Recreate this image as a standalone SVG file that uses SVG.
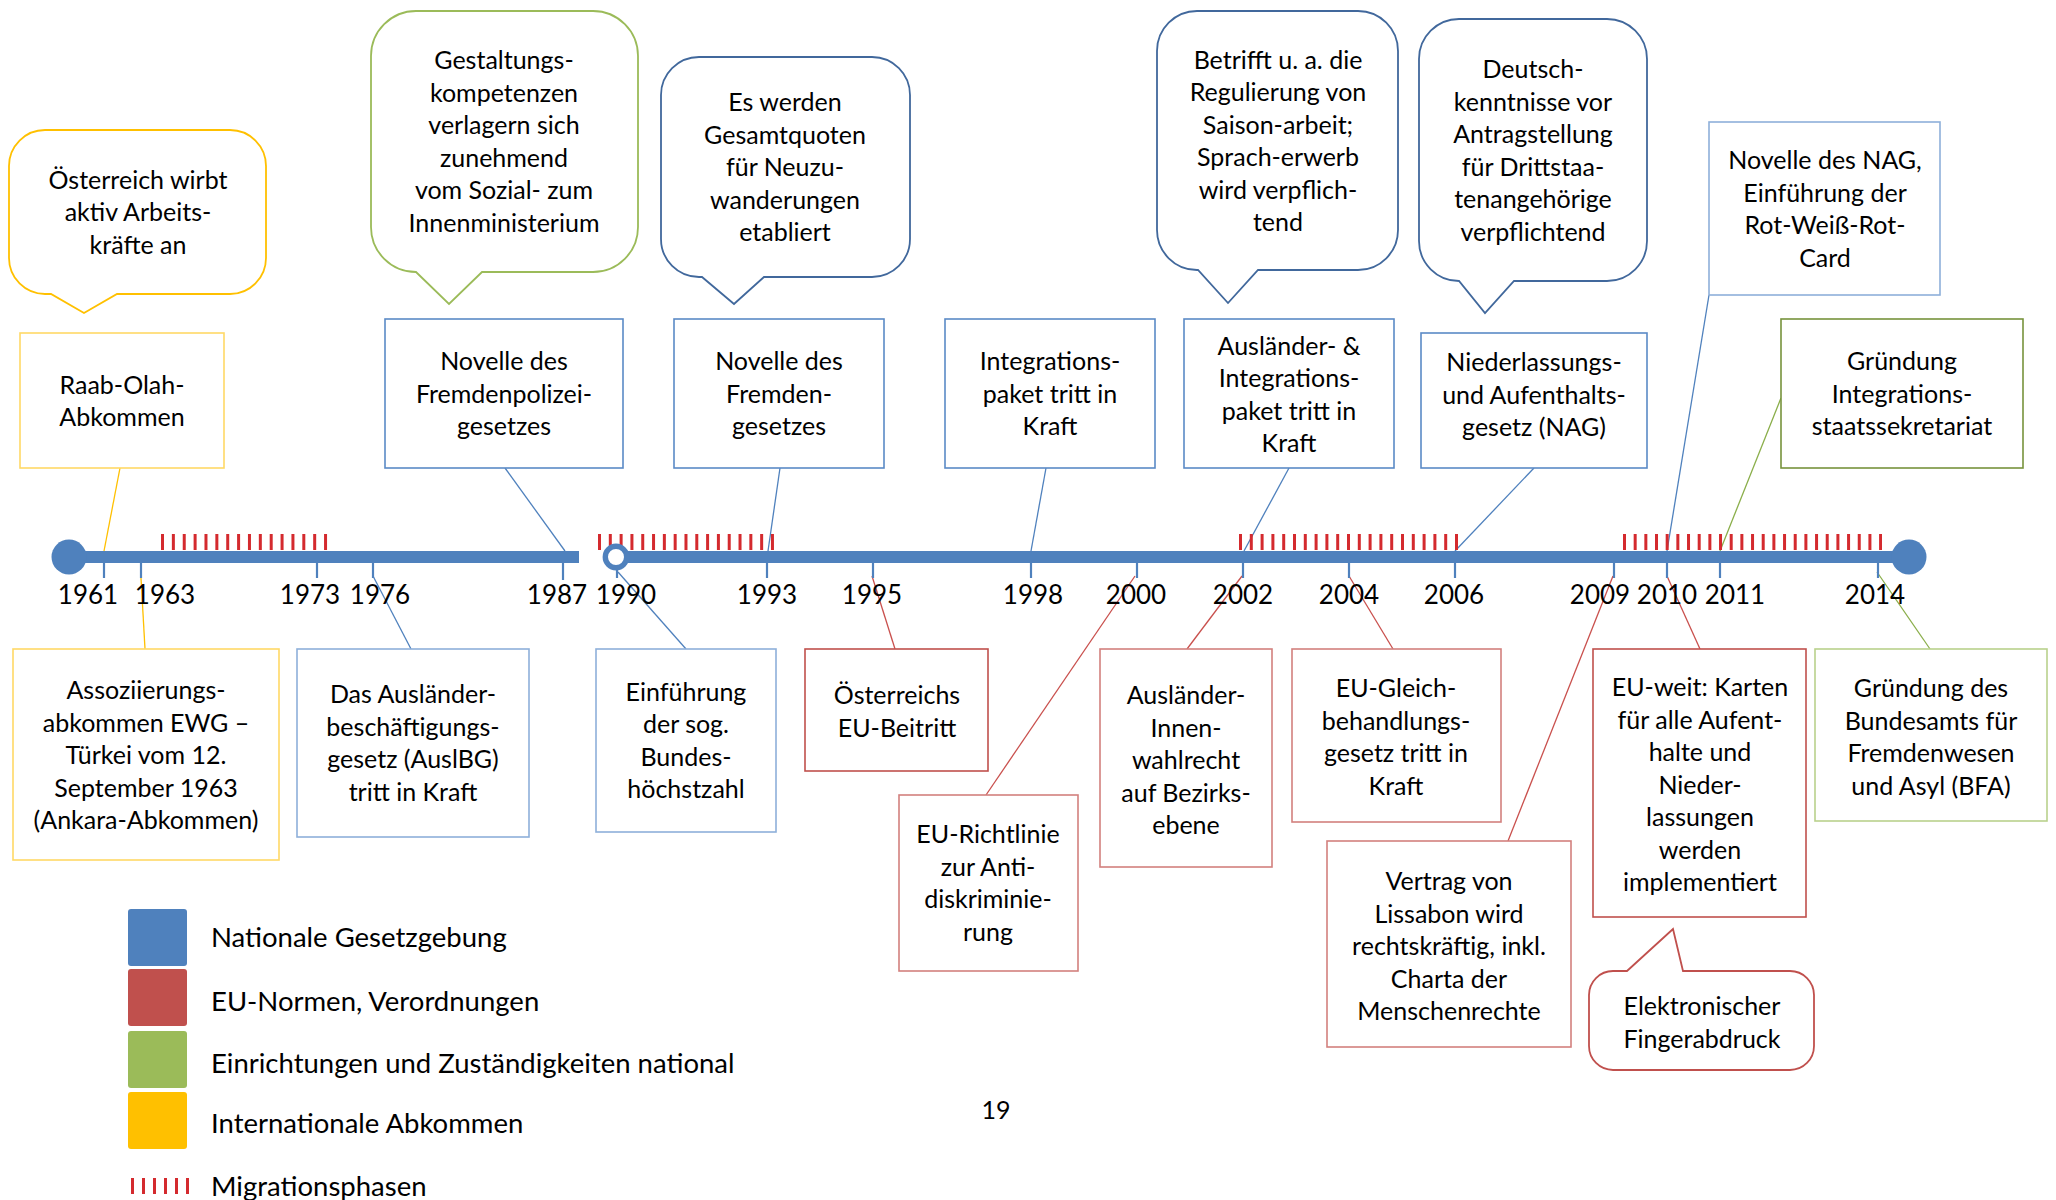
<svg xmlns="http://www.w3.org/2000/svg" width="2056" height="1200" viewBox="0 0 2056 1200">
<defs>
<style>
text{font-family:Lato,"Liberation Sans",sans-serif;fill:#000;}
.t{font-size:25px;text-anchor:middle;}
.yr{font-size:26px;text-anchor:middle;}
.lg{font-size:27.5px;text-anchor:start;}
.box{fill:#fff;stroke-width:1.6;}
.bb{stroke:#5B8AC6;}
.bl{stroke:#8EB0DA;}
.br{stroke:#D3807E;}
.brd{stroke:#C0504D;}
.bg{stroke:#77933C;}
.bgl{stroke:#B9D18C;}
.by{stroke:#FFD966;}
.bub{fill:#fff;stroke-width:1.8;}
.ub{stroke:#41689C;}
.ug{stroke:#9BBB59;}
.uy{stroke:#FFC000;}
.ur{stroke:#C0504D;}
.c{fill:none;stroke-width:1.3;}
.cb{stroke:#4F81BD;}
.cr{stroke:#C9504D;}
.cg{stroke:#8AAE4A;}
.cy{stroke:#FFC000;}
.tick{stroke:#4F81BD;stroke-width:2.2;}
.hatch{fill:none;stroke:#D42A2E;stroke-width:16;}
</style>
</defs>
<rect width="2056" height="1200" fill="#fff"/>

<!-- connectors -->
<g id="connectors">
<line class="c cy" x1="120" y1="468" x2="104" y2="551"/>
<line class="c cy" x1="145" y1="649" x2="141" y2="578"/>
<line class="c cb" x1="505" y1="468" x2="565" y2="551"/>
<line class="c cb" x1="411" y1="649" x2="373" y2="576"/>
<line class="c cb" x1="686" y1="649" x2="618" y2="572"/>
<line class="c cb" x1="780" y1="468" x2="768" y2="551"/>
<line class="c cb" x1="1046" y1="468" x2="1031" y2="551"/>
<line class="c cb" x1="1289" y1="468" x2="1244" y2="551"/>
<line class="c cb" x1="1534" y1="468" x2="1455" y2="551"/>
<line class="c cb" x1="1709" y1="295" x2="1667" y2="551"/>
<line class="c cr" x1="895" y1="649" x2="872" y2="576"/>
<line class="c cr" x1="986" y1="795" x2="1135" y2="576"/>
<line class="c cr" x1="1187" y1="649" x2="1242" y2="576"/>
<line class="c cr" x1="1393" y1="649" x2="1349" y2="576"/>
<line class="c cr" x1="1508" y1="841" x2="1613" y2="576"/>
<line class="c cr" x1="1700" y1="649" x2="1667" y2="576"/>
<line class="c cg" x1="1781" y1="398" x2="1720" y2="551"/>
<line class="c cg" x1="1930" y1="649" x2="1877" y2="572"/>
</g>

<!-- timeline -->
<g id="timeline">
<path class="hatch" d="M161,542 H328" stroke-dasharray="3 7.87"/>
<path class="hatch" d="M598,542 H776" stroke-dasharray="3 7.81"/>
<path class="hatch" d="M1239,542 H1458" stroke-dasharray="3 7.8"/>
<path class="hatch" d="M1623,542 H1882" stroke-dasharray="3 7.67"/>
<rect x="69" y="551" width="510" height="12" fill="#4F81BD"/>
<rect x="616" y="551" width="1293" height="12" fill="#4F81BD"/>
<circle cx="69" cy="557" r="17.5" fill="#4F81BD"/>
<circle cx="1909" cy="557" r="17.5" fill="#4F81BD"/>
<circle cx="616" cy="557" r="10.7" fill="#fff" stroke="#4F81BD" stroke-width="5.4"/>
<line class="tick" x1="104" y1="562" x2="104" y2="578"/>
<line class="tick" x1="141" y1="562" x2="141" y2="578"/>
<line class="tick" x1="317" y1="562" x2="317" y2="578"/>
<line class="tick" x1="373" y1="562" x2="373" y2="578"/>
<line class="tick" x1="563" y1="562" x2="563" y2="580"/>
<line class="tick" x1="617" y1="569" x2="617" y2="578"/>
<line class="tick" x1="767" y1="562" x2="767" y2="578"/>
<line class="tick" x1="873" y1="562" x2="873" y2="578"/>
<line class="tick" x1="1031" y1="562" x2="1031" y2="578"/>
<line class="tick" x1="1137" y1="562" x2="1137" y2="578"/>
<line class="tick" x1="1243" y1="562" x2="1243" y2="578"/>
<line class="tick" x1="1349" y1="562" x2="1349" y2="578"/>
<line class="tick" x1="1455" y1="562" x2="1455" y2="578"/>
<line class="tick" x1="1614" y1="562" x2="1614" y2="578"/>
<line class="tick" x1="1667" y1="562" x2="1667" y2="578"/>
<line class="tick" x1="1720" y1="562" x2="1720" y2="578"/>
<line class="tick" x1="1878" y1="562" x2="1878" y2="578"/>
<text class="yr" x="88" y="604">1961</text>
<text class="yr" x="165" y="604">1963</text>
<text class="yr" x="310" y="604">1973</text>
<text class="yr" x="380" y="604">1976</text>
<text class="yr" x="557" y="604">1987</text>
<text class="yr" x="626" y="604">1990</text>
<text class="yr" x="767" y="604">1993</text>
<text class="yr" x="872" y="604">1995</text>
<text class="yr" x="1033" y="604">1998</text>
<text class="yr" x="1136" y="604">2000</text>
<text class="yr" x="1243" y="604">2002</text>
<text class="yr" x="1349" y="604">2004</text>
<text class="yr" x="1454" y="604">2006</text>
<text class="yr" x="1600" y="604">2009</text>
<text class="yr" x="1667" y="604">2010</text>
<text class="yr" x="1735" y="604">2011</text>
<text class="yr" x="1875" y="604">2014</text>
</g>

<!-- callout bubbles -->
<g id="bubble-oesterreich">
<path class="bub uy" d="M45,130 H230 A36,36 0 0 1 266,166 V258 A36,36 0 0 1 230,294 H117 L84,313 L51,294 H45 A36,36 0 0 1 9,258 V166 A36,36 0 0 1 45,130 Z"/>
<text class="t" x="138" y="188.5"><tspan x="138">Österreich wirbt</tspan><tspan x="138" dy="32.5">aktiv Arbeits-</tspan><tspan x="138" dy="32.5">kräfte an</tspan></text>
</g>
<g id="bubble-gestaltung">
<path class="bub ug" d="M416,11 H593 A45,45 0 0 1 638,56 V227 A45,45 0 0 1 593,272 H482 L449,304 L416,272 A45,45 0 0 1 371,227 V56 A45,45 0 0 1 416,11 Z"/>
<text class="t" x="504" y="69.25"><tspan x="504">Gestaltungs-</tspan><tspan x="504" dy="32.5">kompetenzen</tspan><tspan x="504" dy="32.5">verlagern sich</tspan><tspan x="504" dy="32.5">zunehmend</tspan><tspan x="504" dy="32.5">vom Sozial- zum</tspan><tspan x="504" dy="32.5">Innenministerium</tspan></text>
</g>
<g id="bubble-gesamtquoten">
<path class="bub ub" d="M699,57 H872 A38,38 0 0 1 910,95 V239 A38,38 0 0 1 872,277 H764 L734,304 L702,277 H699 A38,38 0 0 1 661,239 V95 A38,38 0 0 1 699,57 Z"/>
<text class="t" x="785" y="111"><tspan x="785">Es werden</tspan><tspan x="785" dy="32.5">Gesamtquoten</tspan><tspan x="785" dy="32.5">für Neuzu-</tspan><tspan x="785" dy="32.5">wanderungen</tspan><tspan x="785" dy="32.5">etabliert</tspan></text>
</g>
<g id="bubble-saisonarbeit">
<path class="bub ub" d="M1197,11 H1358 A40,40 0 0 1 1398,51 V230 A40,40 0 0 1 1358,270 H1258 L1228,303 L1198,270 H1197 A40,40 0 0 1 1157,230 V51 A40,40 0 0 1 1197,11 Z"/>
<text class="t" x="1278" y="68.75"><tspan x="1278">Betrifft u. a. die</tspan><tspan x="1278" dy="32.5">Regulierung von</tspan><tspan x="1278" dy="32.5">Saison-arbeit;</tspan><tspan x="1278" dy="32.5">Sprach-erwerb</tspan><tspan x="1278" dy="32.5">wird verpflich-</tspan><tspan x="1278" dy="32.5">tend</tspan></text>
</g>
<g id="bubble-deutsch">
<path class="bub ub" d="M1459,19 H1607 A40,40 0 0 1 1647,59 V241 A40,40 0 0 1 1607,281 H1514 L1485,313 L1459,281 A40,40 0 0 1 1419,241 V59 A40,40 0 0 1 1459,19 Z"/>
<text class="t" x="1533" y="78.25"><tspan x="1533">Deutsch-</tspan><tspan x="1533" dy="32.5">kenntnisse vor</tspan><tspan x="1533" dy="32.5">Antragstellung</tspan><tspan x="1533" dy="32.5">für Drittstaa-</tspan><tspan x="1533" dy="32.5">tenangehörige</tspan><tspan x="1533" dy="32.5">verpflichtend</tspan></text>
</g>
<g id="bubble-fingerabdruck">
<path class="bub ur" d="M1613,971 H1627 L1673,929 L1683,971 H1790 A24,24 0 0 1 1814,995 V1046 A24,24 0 0 1 1790,1070 H1613 A24,24 0 0 1 1589,1046 V995 A24,24 0 0 1 1613,971 Z"/>
<text class="t" x="1702" y="1015"><tspan x="1702">Elektronischer</tspan><tspan x="1702" dy="32.5">Fingerabdruck</tspan></text>
</g>

<!-- upper boxes -->
<g id="raab-olah">
<rect class="box by" x="20" y="333" width="204" height="135"/>
<text class="t" x="122" y="393.75"><tspan x="122">Raab-Olah-</tspan><tspan x="122" dy="32.5">Abkommen</tspan></text>
</g>
<g id="fremdenpolizeigesetz">
<rect class="box bb" x="385" y="319" width="238" height="149"/>
<text class="t" x="504" y="370"><tspan x="504">Novelle des</tspan><tspan x="504" dy="32.5">Fremdenpolizei-</tspan><tspan x="504" dy="32.5">gesetzes</tspan></text>
</g>
<g id="fremdengesetz">
<rect class="box bb" x="674" y="319" width="210" height="149"/>
<text class="t" x="779" y="370"><tspan x="779">Novelle des</tspan><tspan x="779" dy="32.5">Fremden-</tspan><tspan x="779" dy="32.5">gesetzes</tspan></text>
</g>
<g id="integrationspaket">
<rect class="box bb" x="945" y="319" width="210" height="149"/>
<text class="t" x="1050" y="370"><tspan x="1050">Integrations-</tspan><tspan x="1050" dy="32.5">paket tritt in</tspan><tspan x="1050" dy="32.5">Kraft</tspan></text>
</g>
<g id="auslaender-integrationspaket">
<rect class="box bb" x="1184" y="319" width="210" height="149"/>
<text class="t" x="1289" y="354.75"><tspan x="1289">Ausländer- &amp;</tspan><tspan x="1289" dy="32.5">Integrations-</tspan><tspan x="1289" dy="32.5">paket tritt in</tspan><tspan x="1289" dy="32.5">Kraft</tspan></text>
</g>
<g id="nag">
<rect class="box bb" x="1421" y="333" width="226" height="135"/>
<text class="t" x="1534" y="371"><tspan x="1534">Niederlassungs-</tspan><tspan x="1534" dy="32.5">und Aufenthalts-</tspan><tspan x="1534" dy="32.5">gesetz (NAG)</tspan></text>
</g>
<g id="novelle-nag">
<rect class="box bl" x="1709" y="122" width="231" height="173"/>
<text class="t" x="1825" y="169"><tspan x="1825">Novelle des NAG,</tspan><tspan x="1825" dy="32.5">Einführung der</tspan><tspan x="1825" dy="32.5">Rot-Weiß-Rot-</tspan><tspan x="1825" dy="32.5">Card</tspan></text>
</g>
<g id="integrationsstaatssekretariat">
<rect class="box bg" x="1781" y="319" width="242" height="149"/>
<text class="t" x="1902" y="370"><tspan x="1902">Gründung</tspan><tspan x="1902" dy="32.5">Integrations-</tspan><tspan x="1902" dy="32.5">staatssekretariat</tspan></text>
</g>

<!-- lower boxes -->
<g id="assoziierungsabkommen">
<rect class="box by" x="13" y="649" width="266" height="211"/>
<text class="t" x="146" y="699"><tspan x="146">Assoziierungs-</tspan><tspan x="146" dy="32.5">abkommen EWG –</tspan><tspan x="146" dy="32.5">Türkei vom 12.</tspan><tspan x="146" dy="32.5">September 1963</tspan><tspan x="146" dy="32.5">(Ankara-Abkommen)</tspan></text>
</g>
<g id="auslbg">
<rect class="box bl" x="297" y="649" width="232" height="188"/>
<text class="t" x="413" y="703"><tspan x="413">Das Ausländer-</tspan><tspan x="413" dy="32.5">beschäftigungs-</tspan><tspan x="413" dy="32.5">gesetz (AuslBG)</tspan><tspan x="413" dy="32.5">tritt in Kraft</tspan></text>
</g>
<g id="bundeshoechstzahl">
<rect class="box bl" x="596" y="649" width="180" height="183"/>
<text class="t" x="686" y="700.5"><tspan x="686">Einführung</tspan><tspan x="686" dy="32.5">der sog.</tspan><tspan x="686" dy="32.5">Bundes-</tspan><tspan x="686" dy="32.5">höchstzahl</tspan></text>
</g>
<g id="eu-beitritt">
<rect class="box brd" x="805" y="649" width="183" height="122"/>
<text class="t" x="897" y="704"><tspan x="897">Österreichs</tspan><tspan x="897" dy="32.5">EU-Beitritt</tspan></text>
</g>
<g id="eu-richtlinie">
<rect class="box br" x="899" y="795" width="179" height="176"/>
<text class="t" x="988" y="843"><tspan x="988">EU-Richtlinie</tspan><tspan x="988" dy="32.5">zur Anti-</tspan><tspan x="988" dy="32.5">diskriminie-</tspan><tspan x="988" dy="32.5">rung</tspan></text>
</g>
<g id="wahlrecht">
<rect class="box br" x="1100" y="649" width="172" height="218"/>
<text class="t" x="1186" y="704"><tspan x="1186">Ausländer-</tspan><tspan x="1186" dy="32.5">Innen-</tspan><tspan x="1186" dy="32.5">wahlrecht</tspan><tspan x="1186" dy="32.5">auf Bezirks-</tspan><tspan x="1186" dy="32.5">ebene</tspan></text>
</g>
<g id="gleichbehandlungsgesetz">
<rect class="box br" x="1292" y="649" width="209" height="173"/>
<text class="t" x="1396" y="697"><tspan x="1396">EU-Gleich-</tspan><tspan x="1396" dy="32.5">behandlungs-</tspan><tspan x="1396" dy="32.5">gesetz tritt in</tspan><tspan x="1396" dy="32.5">Kraft</tspan></text>
</g>
<g id="lissabon">
<rect class="box br" x="1327" y="841" width="244" height="206"/>
<text class="t" x="1449" y="890"><tspan x="1449">Vertrag von</tspan><tspan x="1449" dy="32.5">Lissabon wird</tspan><tspan x="1449" dy="32.5">rechtskräftig, inkl.</tspan><tspan x="1449" dy="32.5">Charta der</tspan><tspan x="1449" dy="32.5">Menschenrechte</tspan></text>
</g>
<g id="karten">
<rect class="box brd" x="1593" y="649" width="213" height="268"/>
<text class="t" x="1700" y="696"><tspan x="1700">EU-weit: Karten</tspan><tspan x="1700" dy="32.5">für alle Aufent-</tspan><tspan x="1700" dy="32.5">halte und</tspan><tspan x="1700" dy="32.5">Nieder-</tspan><tspan x="1700" dy="32.5">lassungen</tspan><tspan x="1700" dy="32.5">werden</tspan><tspan x="1700" dy="32.5">implementiert</tspan></text>
</g>
<g id="bfa">
<rect class="box bgl" x="1815" y="649" width="232" height="172"/>
<text class="t" x="1931" y="697"><tspan x="1931">Gründung des</tspan><tspan x="1931" dy="32.5">Bundesamts für</tspan><tspan x="1931" dy="32.5">Fremdenwesen</tspan><tspan x="1931" dy="32.5">und Asyl (BFA)</tspan></text>
</g>

<!-- legend -->
<g id="legend">
<rect x="128" y="909" width="59" height="57" rx="3" fill="#4F81BD"/>
<rect x="128" y="969" width="59" height="57" rx="3" fill="#C0504D"/>
<rect x="128" y="1031" width="59" height="57" rx="3" fill="#9BBB59"/>
<rect x="128" y="1092" width="59" height="57" rx="3" fill="#FFC000"/>
<path class="hatch" d="M131,1186 H189" stroke-width="18" stroke-dasharray="3 8"/>
<text class="lg" x="211" y="947">Nationale Gesetzgebung</text>
<text class="lg" x="211" y="1011">EU-Normen, Verordnungen</text>
<text class="lg" x="211" y="1073">Einrichtungen und Zuständigkeiten national</text>
<text class="lg" x="211" y="1133">Internationale Abkommen</text>
<text class="lg" x="211" y="1196">Migrationsphasen</text>
</g>
<text class="t" x="996" y="1119">19</text>
</svg>
